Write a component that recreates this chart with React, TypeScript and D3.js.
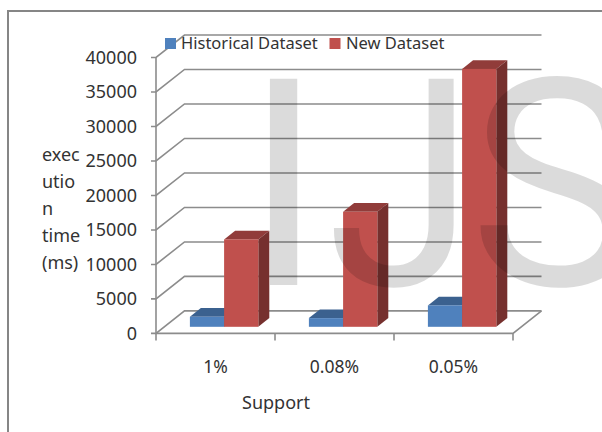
import React from "react";
import * as d3 from "d3";

const categories = ["1%", "0.08%", "0.05%"];
const historicalValues = [1450, 1260, 3100];
const newValues = [12670, 16670, 37390];
const yTicks = [0, 5000, 10000, 15000, 20000, 25000, 30000, 35000, 40000];
const yTitleLines = ["exec", "utio", "n", "time", "(ms)"];
const seriesNames = ["Historical Dataset", "New Dataset"];

const W = 602;
const H = 432;
const FONT = "'Noto Sans', sans-serif";
const INK = "#333333";
const LINE = "#8c8c8c";

const plotLeft = 156;
const plotRight = 513;
const floorDepth = { x: 28.5, y: -22.5 };
const barInset = { x: 8, y: -6.6 };
const barDepth = { x: 11, y: -8.7 };
const barWidth = 34.2;

const x = d3.scaleBand<string>().domain(categories).range([plotLeft, plotRight]);
const y = d3.scaleLinear().domain([0, 40000]).range([333.4, 57.5]);

const poly = (pts: [number, number][]) => d3.line()(pts) + "Z";

type BarProps = { left: number; value: number; front: string; top: string; side: string };

// A box with a front, top and right face, pushed back from the front edge of the floor.
function Bar({ left, value, front, top, side }: BarProps) {
  const x0 = left;
  const x1 = left + barWidth;
  const yBase = y(0) + barInset.y;
  const yTop = y(value) + barInset.y;
  const dx = barDepth.x;
  const dy = barDepth.y;
  return (
    <g>
      <path d={poly([[x0, yTop], [x1, yTop], [x1 + dx, yTop + dy], [x0 + dx, yTop + dy]])} fill={top} />
      <path d={poly([[x1, yTop], [x1 + dx, yTop + dy], [x1 + dx, yBase + dy], [x1, yBase]])} fill={side} />
      <rect x={x0} y={yTop} width={barWidth} height={yBase - yTop} fill={front} />
    </g>
  );
}

export default function App() {
  const bw = x.bandwidth();
  return (
    <svg width={W} height={H} viewBox={`0 0 ${W} ${H}`} style={{ position: "fixed", left: 0, top: 0, display: "block", background: "#fff" }}>
      {/* outer frame: only the top and left edges fall inside the view */}
      <path d={`M8,${H}V11H${W}`} fill="none" stroke="#868686" strokeWidth={2} />

      {/* wall gridlines with their side-wall diagonals */}
      {yTicks.map((t) => (
        <path
          key={t}
          d={`M${plotLeft - 5},${y(t)}H${plotLeft}L${plotLeft + floorDepth.x},${y(t) + floorDepth.y}H${plotRight + floorDepth.x}`}
          fill="none"
          stroke={LINE}
          strokeWidth={1.6}
        />
      ))}
      {/* axes and floor */}
      <path d={`M${plotLeft},${y(40000)}V${y(0)}H${plotRight}L${plotRight + floorDepth.x},${y(0) + floorDepth.y}`} fill="none" stroke={LINE} strokeWidth={1.6} />
      {[...categories.map((c) => x(c)!), plotRight].map((tx) => (
        <line key={tx} x1={tx} x2={tx} y1={y(0)} y2={y(0) + 7} stroke={LINE} strokeWidth={1.6} />
      ))}

      {/* bars */}
      {categories.map((c, i) => {
        const center = x(c)! + bw / 2 + barInset.x + 0.6;
        return (
          <g key={c}>
            <Bar left={center - barWidth} value={historicalValues[i]} front="#4f81bd" top="#3b618f" side="#2f4e73" />
            <Bar left={center} value={newValues[i]} front="#c0504d" top="#913c3a" side="#76302e" />
          </g>
        );
      })}

      {/* tick labels */}
      {yTicks.map((t) => (
        <text key={t} x={137} y={y(t) + 6.5} textAnchor="end" fontFamily={FONT} fontSize={18} fill={INK}>
          {t}
        </text>
      ))}
      {categories.map((c) => (
        <text key={c} x={x(c)! + bw / 2} y={372.5} textAnchor="middle" fontFamily={FONT} fontSize={17.5} fill={INK}>
          {c}
        </text>
      ))}

      {/* axis titles */}
      {yTitleLines.map((line, i) => (
        <text key={line} x={42} y={161 + i * 27} fontFamily={FONT} fontSize={18} fill={INK}>
          {line}
        </text>
      ))}
      <text x={242} y={409} fontFamily={FONT} fontSize={18} fill={INK}>Support</text>

      {/* legend */}
      <rect x={165} y={38} width={11} height={11} fill="#4f81bd" />
      <text x={181} y={48.5} fontFamily={FONT} fontSize={16.5} fill={INK}>{seriesNames[0]}</text>
      <rect x={329.5} y={38} width={11} height={11} fill="#c0504d" />
      <text x={346} y={48.5} fontFamily={FONT} fontSize={16.5} fill={INK}>{seriesNames[1]}</text>

      {/* translucent publisher mark laid over the chart */}
      <g fontFamily="Roboto, sans-serif" fontSize={290} fill="#000" fillOpacity={0.14}>
        <text x={244} y={285}>I</text>
        <text transform="translate(327,285) scale(0.92,1)">J</text>
        <text x={469} y={285}>S</text>
      </g>
    </svg>
  );
}
